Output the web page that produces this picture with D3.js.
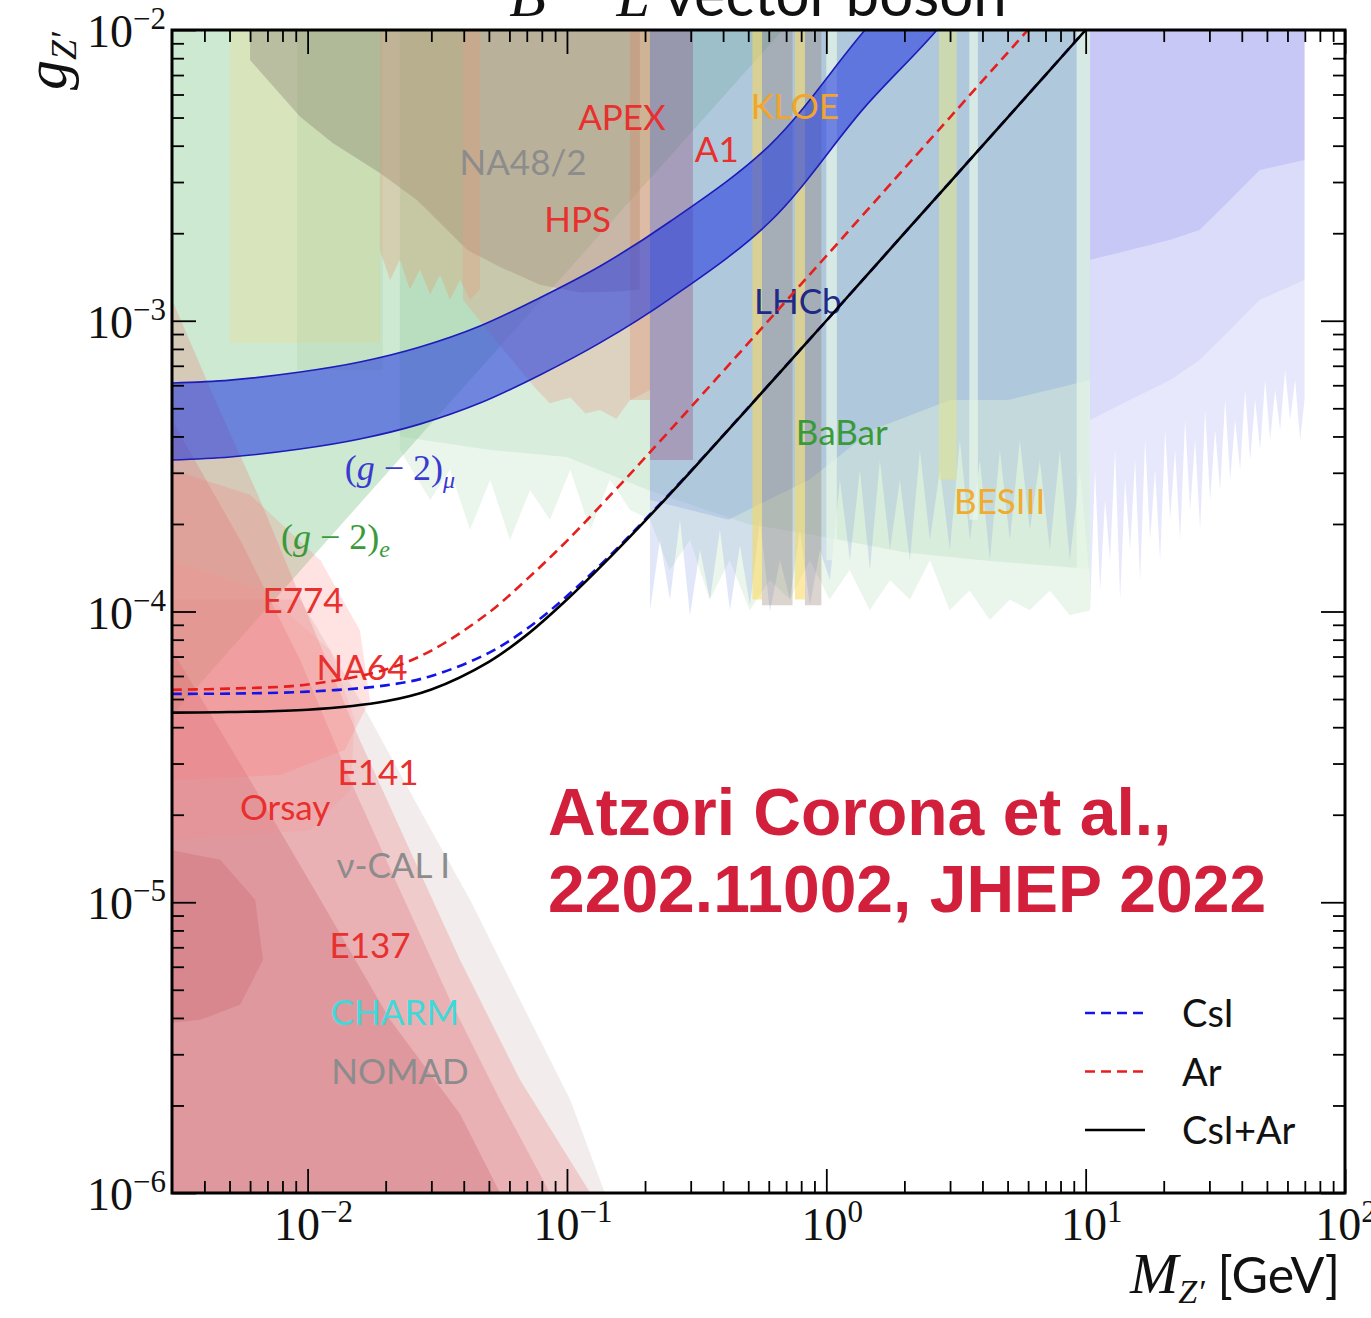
<!DOCTYPE html>
<html>
<head>
<meta charset="utf-8">
<script src="https://cdn.jsdelivr.net/npm/d3@7/dist/d3.min.js"></script>
<style>
  html, body { margin: 0; padding: 0; background: #fff; }
  svg { display: block; }
</style>
</head>
<body>
<svg id="chart" width="1371" height="1318"></svg>
<script>
// ---- data (mass in GeV, coupling g_Z') ----
var massRange = [3e-3, 100];
var couplingRange = [1e-6, 1e-2];
var massDecades = [-2, -1, 0, 1, 2];
var couplingDecades = [-6, -5, -4, -3, -2];

// CEvNS bounds
var curveMass = [0.003, 0.005, 0.01, 0.02, 0.03, 0.05, 0.07, 0.1, 0.15, 0.2, 0.3, 0.5, 0.7, 1, 2, 3, 5, 7, 10];
var gCsI   = [5.21e-5, 5.22e-5, 5.30e-5, 5.57e-5, 6.00e-5, 7.21e-5, 8.72e-5, 1.13e-4, 1.59e-4, 2.07e-4, 3.04e-4, 5.03e-4, 7.02e-4, 1.0e-3, 2.0e-3, 3.0e-3, 5.0e-3, 7.0e-3, 1.0e-2];
var gAr    = [5.38e-5, 5.43e-5, 5.61e-5, 6.32e-5, 7.34e-5, 9.92e-5, 1.29e-4, 1.75e-4, 2.56e-4, 3.38e-4, 5.04e-4, 8.37e-4, 1.17e-3, 1.67e-3, 3.34e-3, 5.01e-3, 8.35e-3, 1.17e-2, 1.67e-2];
var gCsIAr = [4.49e-5, 4.51e-5, 4.59e-5, 4.91e-5, 5.39e-5, 6.71e-5, 8.31e-5, 1.10e-4, 1.57e-4, 2.05e-4, 3.03e-4, 5.02e-4, 7.01e-4, 1.0e-3, 2.0e-3, 3.0e-3, 5.0e-3, 7.0e-3, 1.0e-2];

// (g-2)_mu band
var gm2Mass  = [0.003, 0.00503, 0.00936, 0.0159, 0.0271, 0.0462, 0.0787, 0.134, 0.249, 0.606, 1.41, 2.67, 4.67];
var gm2Upper = [6.11e-4, 6.25e-4, 6.66e-4, 7.21e-4, 8.12e-4, 9.59e-4, 1.20e-3, 1.54e-3, 2.19e-3, 4.02e-3, 1.0e-2, 1.88e-2, 3.5e-2];
var gm2Lower = [3.32e-4, 3.40e-4, 3.62e-4, 3.92e-4, 4.41e-4, 5.21e-4, 6.51e-4, 8.39e-4, 1.19e-3, 2.19e-3, 5.44e-3, 1.0e-2, 1.88e-2];

// excluded regions, [mass, coupling] outlines
var ge2Region   = [[3e-3, 4.4e-5], [0.027, 4.0e-4], [0.68, 1e-2], [3e-3, 1e-2]];
var na48Region  = [[6.0e-3, 1e-2], [6.0e-3, 7.88e-3], [9.36e-3, 5.03e-3], [0.0125, 4.09e-3], [0.019, 3.22e-3], [0.0264, 2.60e-3],
                   [0.0413, 1.75e-3], [0.0552, 1.53e-3], [0.0787, 1.33e-3], [0.112, 1.25e-3], [0.160, 1.26e-3], [0.191, 1.28e-3], [0.191, 1e-2]];
var apexRegion  = [[0.019, 1e-2], [0.019, 1.75e-3], [0.0208, 1.38e-3], [0.0227, 1.62e-3], [0.0248, 1.28e-3], [0.0271, 1.50e-3],
                   [0.0297, 1.23e-3], [0.0324, 1.44e-3], [0.0354, 1.18e-3], [0.0387, 1.38e-3], [0.0423, 1.18e-3], [0.0462, 1.28e-3], [0.0462, 1e-2]];
var hpsRegion   = [[0.0397, 1e-2], [0.0397, 1.18e-3], [0.0552, 8.21e-4], [0.0766, 5.78e-4], [0.086, 5.2e-4], [0.103, 5.45e-4], [0.118, 4.8e-4],
                   [0.134, 4.93e-4], [0.155, 4.6e-4], [0.175, 5.34e-4], [0.209, 5.78e-4], [0.209, 1e-2]];
var pdgBoxes    = [[5.03e-3, 0.019, 8.39e-4], [9.1e-3, 0.0195, 6.77e-4]];

var babarMass = [0.0227, 0.0297, 0.0354, 0.0423, 0.0506, 0.0603, 0.072, 0.086, 0.103, 0.123, 0.1465, 0.175, 0.209, 0.249, 0.298, 0.355, 0.424, 0.507,
                 0.606, 0.723, 0.864, 1.03, 1.23, 1.47, 1.76, 2.10, 2.51, 2.99, 3.57, 4.27, 5.10, 6.09, 7.27, 8.69, 10.4];
var babarG    = [3.59e-4, 2.42e-4, 3.07e-4, 1.91e-4, 2.84e-4, 1.76e-4, 2.62e-4, 2.07e-4, 3.07e-4, 1.91e-4, 2.84e-4, 2.24e-4, 2.07e-4, 1.39e-4, 1.76e-4,
                 1.10e-4, 1.50e-4, 1.01e-4, 1.28e-4, 1.10e-4, 1.50e-4, 1.10e-4, 1.39e-4, 1.01e-4, 1.28e-4, 1.10e-4, 1.50e-4, 1.01e-4, 1.18e-4, 9.35e-5,
                 1.10e-4, 1.01e-4, 1.18e-4, 9.7e-5, 1.01e-4];
var babarCoreMass = [0.0227, 0.05, 0.1, 0.209, 0.5, 1.0, 2.0, 4.0, 10.4];
var babarCoreG    = [4.0e-4, 3.6e-4, 3.4e-4, 2.6e-4, 2.0e-4, 1.8e-4, 1.6e-4, 1.5e-4, 1.4e-4];

var lhcbMass = [0.209, 0.2284, 0.2496, 0.2728, 0.2981, 0.3258, 0.356, 0.389, 0.4251, 0.4646, 0.5077, 0.5548, 0.6063, 0.6626, 0.7241,
                0.7913, 0.8647, 0.945, 1.0327, 1.1285, 1.2333, 1.3477, 1.4728, 1.6095, 1.7589, 1.9221, 2.1005, 2.2955, 2.5085, 2.7413,
                2.9957, 3.2737, 3.5776, 3.9096, 4.2725, 4.669, 5.1023, 5.5759, 6.0933, 6.6588, 7.2768, 7.9521, 8.6901, 9.4966, 10.378];
var lhcbG    = [1.01e-4, 1.76e-4, 1.10e-4, 2.07e-4, 9.7e-5, 1.63e-4, 1.10e-4, 1.91e-4, 1.01e-4, 1.69e-4, 1.05e-4, 2.07e-4, 9.96e-5, 1.50e-4, 1.10e-4,
                1.91e-4, 1.05e-4, 1.63e-4, 1.28e-4, 2.84e-4, 1.50e-4, 3.07e-4, 1.39e-4, 3.32e-4, 1.63e-4, 2.84e-4, 1.50e-4, 3.59e-4, 1.76e-4, 3.07e-4,
                1.63e-4, 3.89e-4, 1.76e-4, 3.32e-4, 1.50e-4, 3.59e-4, 1.76e-4, 3.89e-4, 1.91e-4, 3.32e-4, 1.63e-4, 3.59e-4, 1.50e-4, 3.07e-4, 1.28e-4];
var lhcbCoreMass = [0.209, 0.42, 0.86, 1.5, 3.0, 5.0, 10.4];
var lhcbCoreG    = [2.42e-4, 2.07e-4, 2.84e-4, 4.21e-4, 5.34e-4, 5.34e-4, 6.25e-4];

var cmsMass   = [10.4, 14.8, 21.2, 27.5, 36.0, 46.9, 69.8];
var cmsG      = [1.62e-3, 1.75e-3, 1.90e-3, 2.05e-3, 2.60e-3, 3.30e-3, 3.57e-3];
var cmsMidG   = [4.56e-4, 5.34e-4, 6.25e-4, 7.33e-4, 9.29e-4, 1.18e-3, 1.38e-3];
var cmsTailMass = [10.4, 10.87, 11.37, 11.88, 12.42, 12.99, 13.58, 14.19, 14.84, 15.51, 16.22, 16.95, 17.72, 18.53, 19.37, 20.25, 21.17, 22.13,
                   23.13, 24.18, 25.28, 26.43, 27.63, 28.88, 30.19, 31.57, 33.0, 34.5, 36.07, 37.7, 39.41, 41.2, 43.07, 45.03, 47.07, 49.21,
                   51.44, 53.78, 56.22, 58.77, 61.44, 64.23, 67.14, 69.8];
var cmsTailG    = [1.01e-4, 3.07e-4, 1.18e-4, 2.42e-4, 1.50e-4, 3.59e-4, 1.10e-4, 2.84e-4, 1.63e-4, 3.32e-4, 1.28e-4, 3.89e-4, 1.76e-4, 3.07e-4,
                   1.50e-4, 4.21e-4, 2.07e-4, 3.59e-4, 1.76e-4, 4.56e-4, 2.24e-4, 3.89e-4, 1.91e-4, 4.93e-4, 2.42e-4, 4.21e-4, 2.62e-4, 5.34e-4,
                   2.84e-4, 4.56e-4, 3.07e-4, 5.78e-4, 3.32e-4, 5.34e-4, 3.59e-4, 6.25e-4, 3.89e-4, 5.78e-4, 4.21e-4, 6.77e-4, 4.56e-4, 6.25e-4,
                   3.89e-4, 5.34e-4];

// narrow mass windows: [kind, mLow, mHigh, lowest coupling]
var strips = [
  ["apexEdge", 0.175, 0.209, 5.34e-4],
  ["a1",       0.209, 0.306, 3.32e-4],
  ["kloeDark", 0.565, 0.741, 1.05e-4],
  ["kloeDark", 0.827, 0.957, 1.05e-4],
  ["kloe",     0.519, 0.565, 1.10e-4],
  ["kloe",     0.757, 0.827, 1.10e-4],
  ["besYG",    2.72, 3.18, 2.84e-4],
  ["gap",      1.0, 1.098, 1.50e-4],
  ["gap",      3.56, 3.84, 2.07e-4],
  ["gap",      9.23, 10.4, 1.01e-4]
];

// beam dump and electron fixed-target regions
var dumpOuter = [[3e-3, 1.18e-3], [4.40e-3, 5.34e-4], [6.56e-3, 2.42e-4], [0.0102, 9.35e-5], [0.0159, 3.61e-5], [0.0248, 1.51e-5],
                 [0.0387, 6.33e-6], [0.0659, 2.45e-6], [0.123, 1e-6], [3e-3, 1e-6]];
var dumpFringe = [[3e-3, 1.10e-4], [9.36e-3, 1.10e-4], [0.0159, 4.96e-5], [0.0271, 2.08e-5], [0.0423, 1.02e-5], [0.0659, 4.61e-6],
                  [0.103, 2.09e-6], [0.140, 1e-6], [3e-3, 1e-6]];
var dumpMid   = [[3e-3, 4.56e-4], [5.50e-3, 1.76e-4], [9.36e-3, 6.81e-5], [0.0146, 2.63e-5], [0.0227, 1.10e-5], [0.0354, 4.61e-6],
                 [0.0552, 2.09e-6], [0.0860, 1e-6], [3e-3, 1e-6]];
var dumpInner = [[3e-3, 7.37e-5], [6.0e-3, 2.63e-5], [0.0112, 1.02e-5], [0.0208, 3.94e-6], [0.0387, 1.87e-6], [0.0552, 1e-6], [3e-3, 1e-6]];
var e774Region = [[3e-3, 3.07e-4], [6.0e-3, 2.52e-4], [0.0112, 1.50e-4], [0.0159, 8.62e-5], [0.0174, 4.96e-5], [0.0139, 3.34e-5],
                  [7.85e-3, 2.74e-5], [3e-3, 2.63e-5]];
var e141Region = [[3e-3, 1.50e-4], [6.56e-3, 1.19e-4], [0.0122, 7.37e-5], [0.0152, 4.24e-5], [0.0146, 2.43e-5], [0.0102, 1.77e-5], [3e-3, 1.64e-5]];
var orsayRegion = [[3e-3, 1.51e-5], [4.60e-3, 1.40e-5], [6.28e-3, 1.02e-5], [6.73e-3, 6.33e-6], [5.50e-3, 4.45e-6], [3.86e-3, 3.94e-6], [3e-3, 3.85e-6]];

var regionLabels = [
  ["APEX", 0.163, 4.53e-3], ["NA48/2", 0.0677, 3.17e-3], ["A1", 0.378, 3.52e-3], ["KLOE", 0.756, 4.94e-3],
  ["HPS", 0.110, 2.02e-3], ["LHCb", 0.777, 1.055e-3], ["BaBar", 1.147, 3.74e-4], ["BESIII", 4.66, 2.16e-4],
  ["E774", 9.61e-3, 9.88e-5], ["NA64", 0.0162, 5.81e-5], ["E141", 0.0187, 2.53e-5], ["Orsay", 8.19e-3, 1.92e-5],
  ["\u03bd-CAL I", 0.0214, 1.21e-5], ["E137", 0.0174, 6.43e-6], ["CHARM", 0.0217, 3.78e-6], ["NOMAD", 0.0227, 2.37e-6]
];
var gm2Labels = [["\u03bc", 0.0227, 2.83e-4], ["e", 0.0128, 1.64e-4]];

var legendItems = ["CsI", "Ar", "CsI+Ar"];

// ---- styling ----
var labelColor = {
  "APEX": "#e8302e", "NA48/2": "#8c8c8c", "A1": "#e8302e", "KLOE": "#f2a52a", "HPS": "#e8302e", "LHCb": "#1e2a86",
  "BaBar": "#3a9a3a", "BESIII": "#f0ac30", "E774": "#e8302e", "NA64": "#e8302e", "E141": "#e8302e", "Orsay": "#e8302e",
  "\u03bd-CAL I": "#8c8c8c", "E137": "#e8302e", "CHARM": "#3fd9da", "NOMAD": "#8c8c8c"
};
var stripStyle = {
  apexEdge: ["rgb(225,120,80)", 0.25],
  a1: ["rgb(140,60,110)", 0.3],
  kloeDark: ["rgb(140,115,95)", 0.3],
  kloe: ["rgb(250,215,90)", 0.55],
  besYG: ["rgb(225,230,140)", 0.55],
  gap: ["rgb(232,246,232)", 0.7]
};

var plotL = 172, plotR = 1345, plotT = 30, plotB = 1193;

var svg = d3.select("#chart");
var x = d3.scaleLog().domain(massRange).range([plotL, plotR]);
var y = d3.scaleLog().domain(couplingRange).range([plotB, plotT]);

svg.append("defs").append("clipPath").attr("id", "plotClip")
  .append("rect").attr("x", plotL).attr("y", plotT).attr("width", plotR - plotL).attr("height", plotB - plotT);

var plot = svg.append("g").attr("clip-path", "url(#plotClip)");
var line = d3.line().x(function (d) { return x(d[0]); }).y(function (d) { return y(d[1]); });

function region (pts, fill, op) {
  plot.append("path").attr("d", line(pts) + "Z").attr("fill", fill).attr("fill-opacity", op).attr("stroke", "none");
}
function hangingRegion (mass, g, fill, op) {
  var pts = mass.map(function (m, i) { return [m, g[i]]; });
  pts.push([mass[mass.length - 1], 1e-2]);
  pts.push([mass[0], 1e-2]);
  region(pts, fill, op);
}

// background regions, back to front
region(ge2Region, "rgb(130,200,140)", 0.4);
pdgBoxes.forEach(function (b, i) {
  region([[b[0], 1e-2], [b[1], 1e-2], [b[1], b[2]], [b[0], b[2]]], i ? "rgb(150,190,140)" : "rgb(240,220,140)", i ? 0.18 : 0.3);
});
hangingRegion(babarMass, babarG, "rgb(150,205,160)", 0.2);
hangingRegion(babarCoreMass, babarCoreG, "rgb(150,205,160)", 0.2);
region(na48Region, "rgb(125,120,105)", 0.35);
region(apexRegion, "rgb(230,150,100)", 0.3);
region(hpsRegion, "rgb(230,160,140)", 0.35);
hangingRegion(lhcbMass, lhcbG, "rgb(120,145,225)", 0.22);
hangingRegion(lhcbCoreMass, lhcbCoreG, "rgb(110,140,220)", 0.22);
hangingRegion(cmsTailMass, cmsTailG, "rgb(150,150,240)", 0.22);
hangingRegion(cmsMass, cmsMidG, "rgb(150,150,240)", 0.15);
hangingRegion(cmsMass, cmsG, "rgb(150,150,240)", 0.28);
strips.forEach(function (s) {
  var st = stripStyle[s[0]];
  region([[s[1], 1e-2], [s[2], 1e-2], [s[2], s[3]], [s[1], s[3]]], st[0], st[1]);
});

region(dumpFringe, "rgb(205,180,180)", 0.25);
region(dumpOuter, "rgb(235,120,120)", 0.28);
region(dumpMid, "rgb(220,100,110)", 0.25);
region(dumpInner, "rgb(190,80,90)", 0.25);
region(e774Region, "rgb(255,110,110)", 0.2);
region(e141Region, "rgb(255,140,140)", 0.18);
region(orsayRegion, "rgb(190,70,80)", 0.2);

// (g-2)_mu band
var bandPts = gm2Mass.map(function (m, i) { return { m: m, lo: gm2Lower[i], hi: gm2Upper[i] }; });
plot.append("path")
  .attr("d", d3.area().curve(d3.curveCatmullRom)
    .x(function (d) { return x(d.m); }).y0(function (d) { return y(d.lo); }).y1(function (d) { return y(d.hi); })(bandPts))
  .attr("fill", "#2a3fe0").attr("fill-opacity", 0.6);
[gm2Upper, gm2Lower].forEach(function (edge) {
  plot.append("path")
    .attr("d", d3.line().curve(d3.curveCatmullRom).x(function (d, i) { return x(gm2Mass[i]); }).y(function (d) { return y(d); })(edge))
    .attr("fill", "none").attr("stroke", "#1c1cb8").attr("stroke-width", 1.6);
});

// region labels
plot.selectAll("text.region").data(regionLabels).enter().append("text")
  .attr("class", "region")
  .attr("x", function (d) { return x(d[1]); })
  .attr("y", function (d) { return y(d[2]); })
  .attr("text-anchor", "middle")
  .attr("font-family", "Lato, 'Open Sans', sans-serif")
  .attr("font-size", 35)
  .attr("fill", function (d) { return labelColor[d[0]]; })
  .text(function (d) { return d[0]; });

gm2Labels.forEach(function (d) {
  var t = plot.append("text")
    .attr("x", x(d[1])).attr("y", y(d[2]))
    .attr("text-anchor", "middle")
    .attr("font-family", "'Liberation Serif', serif")
    .attr("font-size", 36)
    .attr("fill", d[0] === "e" ? "#3a9a3a" : "#3a3ad0");
  t.append("tspan").text("(");
  t.append("tspan").attr("font-style", "italic").text("g");
  t.append("tspan").text(" \u2212 2)");
  t.append("tspan").attr("font-style", "italic").attr("font-size", 24).attr("dy", 8).text(d[0]);
});

// CEvNS curves
function curve (g, color, dash) {
  var pts = curveMass.map(function (m, i) { return [m, g[i]]; });
  plot.append("path")
    .attr("d", d3.line().curve(d3.curveCatmullRom).x(function (d) { return x(d[0]); }).y(function (d) { return y(d[1]); })(pts))
    .attr("fill", "none").attr("stroke", color).attr("stroke-width", 2.6)
    .attr("stroke-dasharray", dash);
}
curve(gCsI, "#1414e6", "10,6");
curve(gAr, "#e61e1e", "10,6");
curve(gCsIAr, "#000", null);

// ---- axes ----
function minorTicks (decades) {
  var out = [];
  for (var e = decades[0] - 1; e <= decades[decades.length - 1]; e++) {
    for (var k = 2; k <= 9; k++) out.push(k * Math.pow(10, e));
  }
  return out;
}
var xMajor = massDecades.map(function (e) { return Math.pow(10, e); });
var yMajor = couplingDecades.map(function (e) { return Math.pow(10, e); });
var xMinor = minorTicks(massDecades).filter(function (v) { return v > massRange[0] && v < massRange[1]; });
var yMinor = minorTicks(couplingDecades).filter(function (v) { return v > couplingRange[0] && v < couplingRange[1]; });

function ticks (axis, pos, values, len) {
  var g = svg.append("g").attr("transform", pos)
    .call(axis.tickValues(values).tickSize(-len).tickSizeOuter(0).tickFormat(""));
  g.select(".domain").remove();
  g.selectAll("line").attr("stroke", "#000").attr("stroke-width", 1.8);
}
[[xMajor, 24], [xMinor, 12]].forEach(function (t) {
  ticks(d3.axisBottom(x), "translate(0," + plotB + ")", t[0], t[1]);
  ticks(d3.axisTop(x), "translate(0," + plotT + ")", t[0], t[1]);
});
[[yMajor, 24], [yMinor, 12]].forEach(function (t) {
  ticks(d3.axisLeft(y), "translate(" + plotL + ",0)", t[0], t[1]);
  ticks(d3.axisRight(y), "translate(" + plotR + ",0)", t[0], t[1]);
});

svg.append("rect").attr("x", plotL).attr("y", plotT).attr("width", plotR - plotL).attr("height", plotB - plotT)
  .attr("fill", "none").attr("stroke", "#000").attr("stroke-width", 3);

function powerLabel (px, py, e, anchor) {
  var t = svg.append("text").attr("x", px).attr("y", py).attr("text-anchor", anchor)
    .attr("font-family", "'Liberation Serif', serif").attr("font-size", 46).attr("fill", "#111");
  t.append("tspan").text("10");
  t.append("tspan").attr("font-size", 31).attr("dy", -18).text(e < 0 ? "\u2212" + (-e) : String(e));
}
massDecades.forEach(function (e) { powerLabel(x(Math.pow(10, e)) + (e === 2 ? 1 : 6), plotB + 47, e, "middle"); });
couplingDecades.forEach(function (e) { powerLabel(plotL - 6, y(Math.pow(10, e)) + 17, e, "end"); });

// axis titles
var xt = svg.append("text").attr("x", 1340).attr("y", 1293).attr("text-anchor", "end").attr("fill", "#111");
xt.append("tspan").attr("font-family", "'Liberation Serif', serif").attr("font-style", "italic").attr("font-size", 58).text("M");
xt.append("tspan").attr("font-family", "'Liberation Serif', serif").attr("font-style", "italic").attr("font-size", 34).attr("dy", 10).text("Z\u2032");
xt.append("tspan").attr("font-family", "Lato, sans-serif").attr("font-size", 50).attr("dy", -10).text("  [GeV]");

var yt = svg.append("text").attr("transform", "translate(66,32) rotate(-90)").attr("text-anchor", "end").attr("fill", "#111")
  .attr("font-family", "'Liberation Serif', serif").attr("font-style", "italic");
yt.append("tspan").attr("font-size", 60).text("g");
yt.append("tspan").attr("font-size", 36).attr("dy", 10).text("Z\u2032");

// title (cut by the top of the picture)
var tt = svg.append("text").attr("x", 758).attr("y", 16).attr("text-anchor", "middle").attr("fill", "#111");
tt.append("tspan").attr("font-family", "'Liberation Serif', serif").attr("font-style", "italic").attr("font-size", 60).text("B \u2212 L");
tt.append("tspan").attr("font-family", "Lato, sans-serif").attr("font-size", 60).text(" vector boson");

// annotation
var note = svg.append("text").attr("font-family", "'Liberation Sans', Arial, sans-serif").attr("font-weight", "bold")
  .attr("font-size", 66).attr("fill", "#d2203c");
note.append("tspan").attr("x", 548).attr("y", 835).text("Atzori Corona et al.,");
note.append("tspan").attr("x", 548).attr("y", 912).text("2202.11002, JHEP 2022");

// legend
var legendStyle = [["#1414e6", "10,6"], ["#e61e1e", "10,6"], ["#000", null]];
var lg = svg.append("g").selectAll("g").data(legendItems).enter().append("g")
  .attr("transform", function (d, i) { return "translate(1085," + (1013 + i * 58.5) + ")"; });
lg.append("line").attr("x1", 0).attr("x2", 60).attr("y1", 0).attr("y2", 0)
  .attr("stroke", function (d, i) { return legendStyle[i][0]; })
  .attr("stroke-dasharray", function (d, i) { return legendStyle[i][1]; })
  .attr("stroke-width", 2.6);
lg.append("text").attr("x", 97).attr("y", 14).attr("font-family", "Lato, sans-serif").attr("font-size", 38).attr("fill", "#111")
  .text(function (d) { return d; });
</script>
</body>
</html>
